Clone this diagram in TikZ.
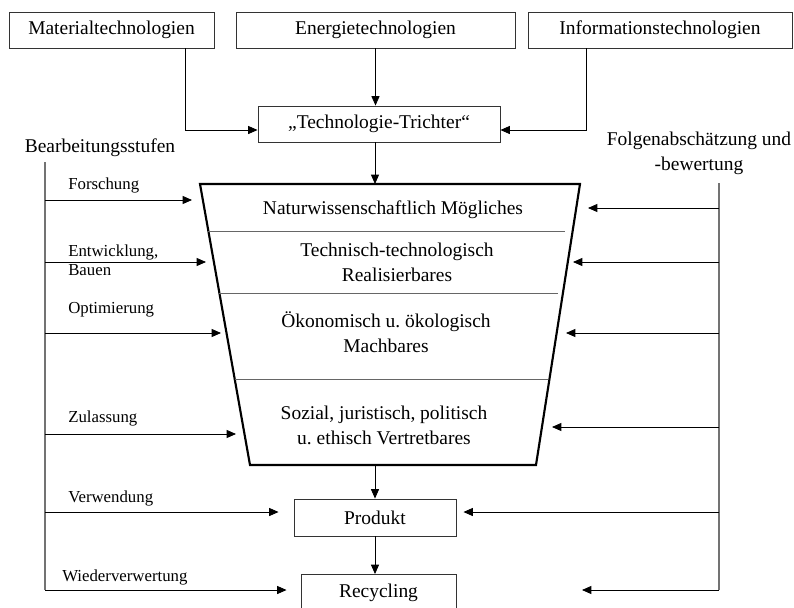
\documentclass[tikz,border=0pt]{standalone}
\usepackage{fontspec}
\setmainfont{Liberation Serif}
\usetikzlibrary{arrows.meta,positioning}
\newcommand\trfont{\fontsize{14.6pt}{18.75pt}\selectfont}
\newcommand\lblfont{\fontsize{12.6pt}{14.25pt}\selectfont}
\frenchspacing

\begin{document}
\begin{tikzpicture}[x=0.75pt, y=-0.75pt, >={Triangle[length=7pt,width=6pt]},
  box/.style={draw=black!80, line width=0.7pt, inner sep=0pt, minimum height=27pt, font=\trfont},
  lbl/.style={inner sep=0pt, anchor=west, align=left, font=\lblfont},
  txt/.style={inner sep=0pt, align=center, font=\trfont},
  bus/.style={draw=black!55, line width=0.8pt},
  arr/.style={->, line width=0.6pt}]
\useasboundingbox (0,0) rectangle (794,608);

% technologies on top
\node[box, minimum width=153.75pt] (mat) at (111.5,30) {Materialtechnologien};
\node[box, minimum width=209.25pt] (ene) at (375.5,30) {Energietechnologien};
\node[box, minimum width=198pt] (inf) at (660,30) {Informationstechnologien};
\node[box, minimum width=181.5pt] (tt) at (379,124) {„Technologie-Trichter“};

\draw[arr] ([xshift=-21.75pt]mat.south east) |- ([yshift=-4.5pt]tt.west);
\draw[arr] (ene.south) -- (ene.south |- tt.north);
\draw[arr] ([xshift=44.25pt]inf.south west) |- ([yshift=-4.5pt]tt.east);

% the funnel
\coordinate (ftop) at (375,184);
\coordinate (fbot) at (375,465);
\draw[line width=1.6pt, line join=miter] (200,184) -- (580,184) -- (536,465) -- (250,465) -- cycle;
\foreach \y/\xa/\xb in {231/208/565, 293/219/558, 379/235/548}
  \draw[draw=black!60, line width=0.7pt] (\xa,\y) -- (\xb,\y);
\node[txt] (f1) at (393,210) {Naturwissenschaftlich Mögliches};
\node[txt] (f2) at (397,262) {Technisch-technologisch\\Realisierbares};
\node[txt] (f3) at (386,332) {Ökonomisch u. ökologisch\\Machbares};
\node[txt] (f4) at (384,425) {Sozial, juristisch, politisch\\u. ethisch Vertretbares};
\draw[arr] (tt.south -| ftop) -- (ftop);

% product and recycling
\node[box, minimum width=121.5pt, minimum height=27.75pt] (prod) at (375,517.5) {Produkt};
\node[box, minimum width=116.25pt, minimum height=27.75pt] (rec) at (378.5,593) {Recycling};
\draw[arr] (fbot) -- (fbot |- prod.north);
\draw[arr] (prod.south -| fbot) -- (fbot |- rec.north);

% left: Bearbeitungsstufen
\node[txt] (bearb) at (100,148) {Bearbeitungsstufen};
\coordinate (ltop) at (45,162);
\coordinate (lbot) at (45,590);
\draw[bus] (ltop) -- (lbot);
\foreach \n/\y/\x in {a/200/192, b/262/206, c/333/221, d/434/236} {
  \coordinate (le\n) at (\x,\y);
  \draw[arr] (ltop |- le\n) -- (le\n);
}
\draw[arr] (ltop |- 0,512) -- ([xshift=-11.25pt]prod.west |- 0,512);
\draw[arr] (lbot) -- ([xshift=-10.5pt]rec.west |- lbot);
\node[lbl] (forsch) at (68,185) {Forschung};
\node[lbl] (entw) at (68,260) {Entwicklung,\\Bauen};
\node[lbl] (opt) at (68,310) {Optimierung};
\node[lbl] (zul) at (68,418) {Zulassung};
\node[lbl] (verw) at (68,498) {Verwendung};
\node[lbl] (wied) at (62,577) {Wiederverwertung};

% right: Folgenabschaetzung
\node[txt] (folg) at (699,153.5) {Folgenabschätzung und\\-bewertung};
\coordinate (rtop) at (719,183);
\coordinate (rbot) at (719,590);
\draw[bus] (rtop) -- (rbot);
\foreach \n/\y/\x in {a/208/588, b/262/573, c/333/566, d/427/552} {
  \coordinate (re\n) at (\x,\y);
  \draw[arr] (rtop |- re\n) -- (re\n);
}
\draw[arr] (rtop |- 0,512) -- ([xshift=5.25pt]prod.east |- 0,512);
\draw[arr] (rbot) -- ([xshift=12pt]rec.east |- rbot);
\end{tikzpicture}
\end{document}
